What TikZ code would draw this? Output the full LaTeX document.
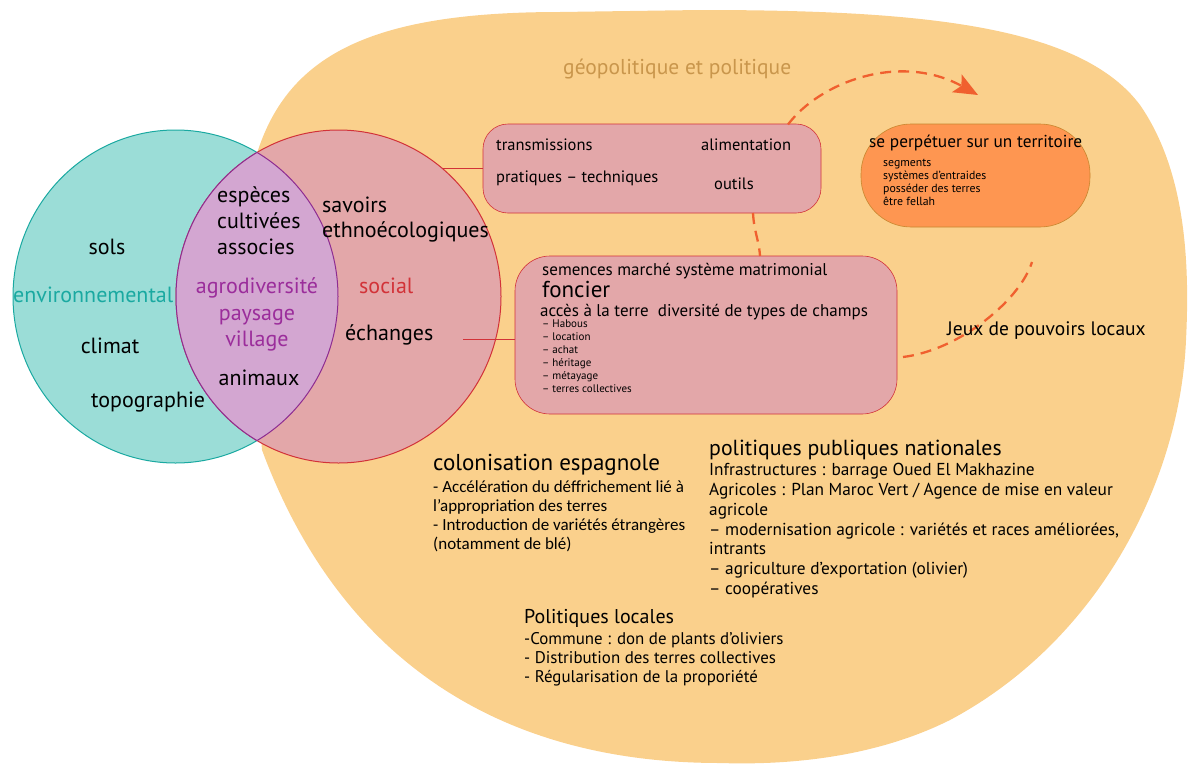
\documentclass[tikz,border=0pt]{standalone}
\usepackage{fontspec}
\setmainfont{PT Sans}
\newfontfamily\carl{Carlito}
\usetikzlibrary{shapes.geometric,arrows.meta}
\newcommand\myfs[1]{\fontsize{#1}{#1}\selectfont}
\definecolor{blob}{HTML}{FAD08C}
\definecolor{tealf}{HTML}{9BDDD7}
\definecolor{teall}{HTML}{1AA9A1}
\definecolor{redf}{HTML}{E3A7A9}
\definecolor{redl}{HTML}{D23238}
\definecolor{purf}{HTML}{D3A6D1}
\definecolor{purl}{HTML}{8E2C91}
\definecolor{purt}{HTML}{9B2D9B}
\definecolor{orf}{HTML}{FE9651}
\definecolor{orl}{HTML}{C8862E}
\definecolor{dash}{HTML}{F0602F}
\definecolor{geo}{HTML}{C9964C}
\tikzset{
  t/.style={anchor=base west, inner sep=0pt, font=\myfs{#1}},
  tc/.style={anchor=base, inner sep=0pt, font=\myfs{#1}},
  pinkbox/.style={draw=redl, line width=0.6pt, fill=redf},
  dashline/.style={draw=dash, line width=2.3pt, dash pattern=on 11pt off 7pt},
}
\begin{document}
\begin{tikzpicture}[x=1pt,y=-1pt]
\useasboundingbox (0,0) rectangle (1188,763);
% blob
\fill[blob] (255,160) .. controls (285,55) and (370,12) .. (560,12)
  -- (700,10) .. controls (920,10) and (1080,25) .. (1140,105)
  .. controls (1185,170) and (1190,260) .. (1186,340)
  .. controls (1180,480) and (1100,640) .. (950,720)
  .. controls (870,760) and (780,765) .. (720,763)
  .. controls (500,763) and (340,660) .. (262,450)
  -- (250,300) -- cycle;
% boxes (as nodes)
\node[pinkbox, rounded corners=25pt, minimum width=338pt, minimum height=89pt] (box1) at (652,168.5) {};
\node[pinkbox, rounded corners=35pt, minimum width=382pt, minimum height=158pt] (box2) at (706,335) {};
\node[draw=orl, line width=0.6pt, fill=orf, rounded corners=50pt, minimum width=229pt, minimum height=103pt] (box3) at (975.5,175.5) {};
% dashed connectors
\coordinate (a1) at (788,124.5);
\coordinate (a2) at (978,95);
\draw[dashline, -{Stealth[length=24pt,width=20pt,inset=5pt]}] (a1) .. controls (820,82) and (900,52) .. (a2);
\coordinate (b1) at (753,213);
\coordinate (b2) at (760,256);
\draw[dashline] (b1) .. controls (754,232) and (759,240) .. (b2);
\coordinate (c1) at (903,357);
\coordinate (c2) at (1032,262);
\draw[dashline] (c1) .. controls (960,350) and (1020,300) .. (c2);
% venn
\node[ellipse, draw=teall, line width=1pt, fill=tealf, minimum width=325pt, minimum height=333pt, inner sep=0pt] (env) at (175.5,296.5) {};
\node[ellipse, draw=redl, line width=1pt, fill=redf, minimum width=325pt, minimum height=333pt, inner sep=0pt] (soc) at (338.5,296.5) {};
\begin{scope}
  \clip (175.5,296.5) ellipse [x radius=162.5pt, y radius=166.5pt];
  \fill[purf] (338.5,296.5) ellipse [x radius=162.5pt, y radius=166.5pt];
  \draw[purl, line width=1pt] (338.5,296.5) ellipse [x radius=162.5pt, y radius=166.5pt];
\end{scope}
\begin{scope}
  \clip (338.5,296.5) ellipse [x radius=162.5pt, y radius=166.5pt];
  \draw[purl, line width=1pt] (175.5,296.5) ellipse [x radius=162.5pt, y radius=166.5pt];
\end{scope}
% red connector lines
\coordinate (l1) at (442,168);
\draw[redl, line width=0.8pt] (l1) -- (l1 -| box1.west);
\coordinate (l2) at (463,339);
\draw[redl, line width=0.8pt] (l2) -- (l2 -| box2.west);
% titles
\node[t=21.5, text=geo] (geo) at (563,74) {géopolitique et politique};
% venn texts
\node[tc=22] (sols) at (107,254) {sols};
\node[t=22, text=teall] (envt) at (13,302) {environnemental};
\node[tc=22] (climat) at (110,353) {climat};
\node[t=22] (topo) at (91,407) {topographie};
\node[t=22] (esp1) at (217,202) {espèces};
\node[t=22] (esp2) at (217,228) {cultivées};
\node[t=22] (esp3) at (217,254) {associes};
\node[tc=22, text=purt] (agro) at (257,293) {agrodiversité};
\node[tc=22, text=purt] (pays) at (257,320) {paysage};
\node[tc=22, text=purt] (vill) at (257,346) {village};
\node[tc=22] (anim) at (259,385) {animaux};
\node[t=22] (sav1) at (322,212) {savoirs};
\node[t=22] (sav2) at (322,237) {ethnoécologiques};
\node[t=22, text=redl] (socialt) at (359,293) {social};
\node[t=22] (ech) at (345,340) {échanges};
% box1 texts
\node[t=16.5] (tr) at (496,150) {transmissions};
\node[t=16.5] (pr) at (496,182) {pratiques – techniques};
\node[t=16.5] (al) at (701,150) {alimentation};
\node[t=16.5] (ou) at (714,189) {outils};
% box2 texts
\node[t=17] (sem) at (542,275) {semences marché système matrimonial};
\node[t=23] (fon) at (542,297) {foncier};
\node[t=17] (acc) at (540,316) {accès à la terre \ diversité de types de champs};
\node[t=11] (f1) at (542,327) {– Habous};
\node[t=11] (f2) at (542,340) {– location};
\node[t=11] (f3) at (542,353) {– achat};
\node[t=11] (f4) at (542,366) {– héritage};
\node[t=11] (f5) at (542,379) {– métayage};
\node[t=11] (f6) at (542,392) {– terres collectives};
% box3 texts
\node[t=17.3] (sp) at (869,147) {se perpétuer sur un territoire};
\node[t=11.8] (s1) at (883,166) {segments};
\node[t=11.8] (s2) at (883,179) {systèmes d’entraides};
\node[t=11.8] (s3) at (883,192) {posséder des terres};
\node[t=11.8] (s4) at (883,205) {être fellah};
% jeux
\node[t=19.5] (jeux) at (947,335) {Jeux de pouvoirs locaux};
% colonisation
\node[t=23] (col) at (433,470) {colonisation espagnole};
\node[t=17, font=\carl\myfs{17}] (col1) at (433,492) {- Accélération du déffrichement lié à};
\node[t=17, font=\carl\myfs{17}] (col2) at (433,511) {l’appropriation des terres};
\node[t=17, font=\carl\myfs{17}] (col3) at (433,530) {- Introduction de variétés étrangères};
\node[t=17, font=\carl\myfs{17}] (col4) at (433,549) {(notamment de blé)};
% politiques publiques
\node[t=21.8] (pol) at (709,455) {politiques publiques nationales};
\node[t=17.3] (p1) at (709,475) {Infrastructures : barrage Oued El Makhazine};
\node[t=17.3] (p2) at (709,495) {Agricoles : Plan Maroc Vert / Agence de mise en valeur};
\node[t=17.3] (p3) at (709,515) {agricole};
\node[t=17.3] (p4) at (709,535) {– modernisation agricole : variétés et races améliorées,};
\node[t=17.3] (p5) at (709,554) {intrants};
\node[t=17.3] (p6) at (709,574) {– agriculture d’exportation (olivier)};
\node[t=17.3] (p7) at (709,594) {– coopératives};
% politiques locales
\node[t=20] (loc) at (524,623) {Politiques locales};
\node[t=16.9] (lo1) at (524,644) {-Commune : don de plants d’oliviers};
\node[t=16.9] (lo2) at (524,663) {- Distribution des terres collectives};
\node[t=16.9] (lo3) at (524,682) {- Régularisation de la proporiété};
\end{tikzpicture}
\end{document}
